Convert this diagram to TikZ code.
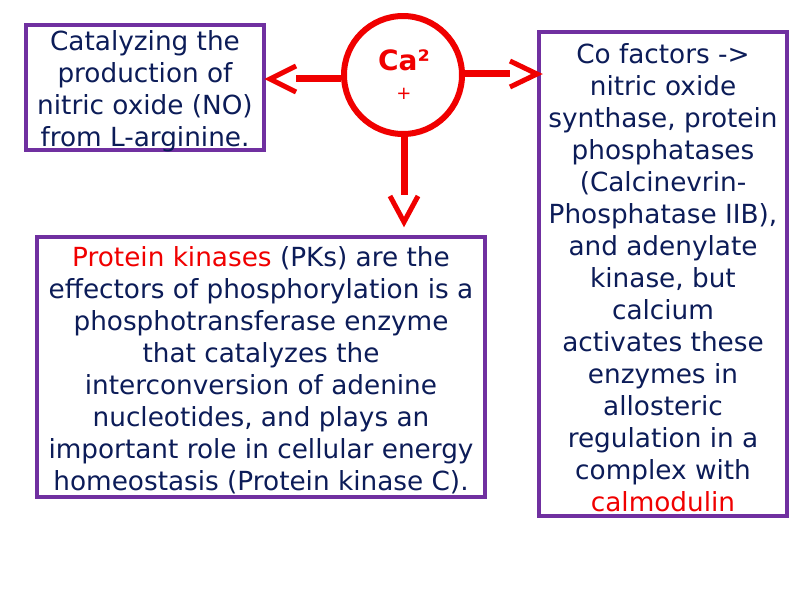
\documentclass[tikz,border=0pt]{standalone}
\usepackage{fontspec}
\setmainfont{DejaVu Sans}
\usetikzlibrary{calc}
\definecolor{boxpurple}{HTML}{7030A0}
\definecolor{txtblue}{HTML}{0C1C58}
\definecolor{cared}{HTML}{F00000}
\begin{document}
\begin{tikzpicture}[x=1pt,y=-1pt,
  box/.style={draw=boxpurple, line width=4.5pt, inner sep=0pt},
  boxtext/.style={inner sep=0pt, align=center, text=txtblue,
    font=\fontsize{26.3}{32}\selectfont},
  conn/.style={draw=cared, line width=7pt},
  chev/.style={draw=cared, line width=5pt, miter limit=10}]
\useasboundingbox[fill=white] (0,0) rectangle (800,600);

\node[box, minimum width=238pt, minimum height=125pt] (lbox) at (145,87.5) {};
\node[boxtext] (ltext) at (145,91)
  {Catalyzing the\\production of\\nitric oxide (NO)\\from L-arginine.};

\node[box, minimum width=448pt, minimum height=260pt] (bbox) at (261,367) {};
\node[boxtext] (btext) at (261,370.5)
  {\textcolor{cared}{Protein kinases} (PKs) are the\\effectors of phosphorylation is a\\phosphotransferase enzyme\\that catalyzes the\\interconversion of adenine\\nucleotides, and plays an\\important role in cellular energy\\homeostasis (Protein kinase C).};

\node[box, minimum width=248pt, minimum height=484pt] (rbox) at (663,274) {};
\node[boxtext] (rtext) at (663,277.5)
  {Co factors ->\\nitric oxide\\synthase, protein\\phosphatases\\(Calcinevrin-\\Phosphatase IIB),\\and adenylate\\kinase, but\\calcium\\activates these\\enzymes in\\allosteric\\regulation in a\\complex with\\\textcolor{cared}{calmodulin}};

\node[draw=cared, line width=6pt, circle, minimum size=118pt, inner sep=0pt] (ca) at (403,75) {};
\node[text=cared, font=\bfseries\fontsize{28}{32}\selectfont] (catext) at (404,60) {Ca²};
\node[text=cared, font=\fontsize{18}{20}\selectfont] (plus) at (404,93.5) {+};

\coordinate (lend) at (296,78);
\coordinate (ltip) at (270,79);
\coordinate (rend) at (510,73);
\coordinate (rtip) at (537,74);
\coordinate (dend) at (404,195);
\coordinate (dtip) at (404,222);

\draw[conn] (ca.west |- lend) -- (lend);
\draw[chev] (296,66) -- (ltip) -- (296,92);
\draw[conn] (ca.east |- rend) -- (rend);
\draw[chev] (510,61) -- (rtip) -- (510,87);
\draw[conn] (ca.south -| dend) -- (dend);
\draw[chev] (390,196) -- (dtip) -- (418,196);
\end{tikzpicture}
\end{document}
